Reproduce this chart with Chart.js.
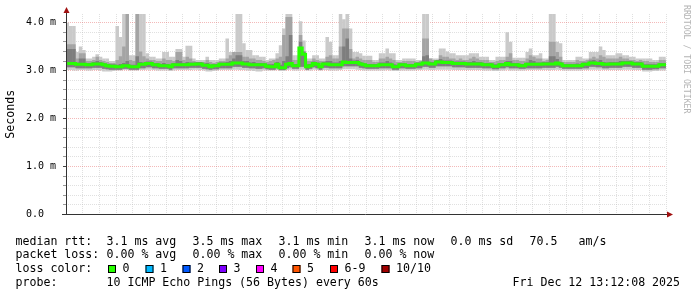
<!DOCTYPE html>
<html>
<head>
<meta charset="utf-8">
<script src="https://cdn.jsdelivr.net/npm/chart.js@4.4.1/dist/chart.umd.min.js"></script>
<style>
  html, body { margin: 0; padding: 0; background: #fff; }
  #chart { display: block; }
</style>
</head>
<body>
<canvas id="chart" width="697" height="297"></canvas>
<script>
// one column per minute, first column starts 10:12
const startMinute = 612;
const graphStart = 612 + 8 / 60;   // 10:12:08
const graphEnd = 792 + 8 / 60;     // 13:12:08

// highest ping (light smoke top), ms
const hi = [4.00,3.93,3.93,3.39,3.50,3.43,3.25,3.25,3.29,3.34,
  3.29,3.25,3.25,3.20,3.20,3.93,3.70,4.30,4.30,3.32,
  3.32,4.30,4.30,4.30,3.36,3.29,3.29,3.25,3.25,3.39,
  3.39,3.29,3.29,3.45,3.45,3.29,3.52,3.52,3.25,3.22,
  3.22,3.22,3.29,3.22,3.22,3.22,3.25,3.25,3.67,3.39,
  3.39,4.30,4.30,3.57,3.43,3.43,3.32,3.32,3.29,3.29,
  3.22,3.25,3.25,3.36,3.53,3.88,4.30,4.30,3.32,3.32,
  4.03,3.63,3.25,3.25,3.32,3.32,3.25,3.25,3.70,3.60,
  3.32,3.32,4.30,4.07,4.30,3.88,3.39,3.39,3.36,3.31,
  3.31,3.31,3.22,3.22,3.36,3.36,3.46,3.36,3.36,3.22,
  3.22,3.25,3.25,3.25,3.25,3.22,3.22,4.30,4.30,3.25,
  3.25,3.25,3.46,3.46,3.40,3.36,3.36,3.32,3.32,3.32,
  3.32,3.36,3.36,3.36,3.29,3.29,3.29,3.22,3.22,3.29,
  3.29,3.29,3.80,3.60,3.27,3.27,3.27,3.27,3.39,3.46,
  3.32,3.32,3.36,3.25,3.25,4.30,4.30,3.60,3.57,3.22,
  3.22,3.22,3.22,3.29,3.29,3.25,3.25,3.39,3.39,3.39,
  3.50,3.43,3.32,3.32,3.32,3.36,3.36,3.32,3.32,3.29,
  3.29,3.25,3.25,3.25,3.25,3.25,3.22,3.22,3.29,3.29,
  3.25];

// second highest ping (medium smoke top)
const hi2 = [3.55,3.55,3.55,3.25,3.36,3.36,3.20,3.20,3.22,3.29,
  3.22,3.20,3.18,3.16,3.16,3.22,3.30,3.50,4.30,3.22,
  3.20,4.30,3.40,3.30,3.25,3.22,3.22,3.20,3.20,3.25,
  3.22,3.22,3.20,3.39,3.39,3.22,3.29,3.25,3.20,3.18,
  3.18,3.18,3.22,3.18,3.16,3.18,3.20,3.20,3.25,3.32,
  3.39,3.39,3.39,3.29,3.29,3.25,3.25,3.22,3.22,3.20,
  3.18,3.20,3.22,3.25,3.29,3.74,4.12,4.12,3.22,3.22,
  3.74,3.40,3.20,3.20,3.25,3.22,3.20,3.20,3.29,3.32,
  3.25,3.25,3.50,3.88,3.88,3.45,3.25,3.29,3.25,3.22,
  3.22,3.22,3.18,3.18,3.25,3.25,3.29,3.25,3.22,3.18,
  3.18,3.20,3.20,3.20,3.20,3.18,3.20,3.67,3.67,3.25,
  3.22,3.22,3.32,3.29,3.29,3.25,3.25,3.22,3.25,3.22,
  3.22,3.25,3.29,3.25,3.22,3.22,3.22,3.18,3.18,3.20,
  3.22,3.22,3.29,3.36,3.22,3.22,3.20,3.20,3.25,3.32,
  3.29,3.25,3.25,3.20,3.22,3.60,3.60,3.39,3.29,3.18,
  3.18,3.18,3.18,3.22,3.20,3.20,3.22,3.25,3.29,3.25,
  3.32,3.29,3.25,3.25,3.25,3.25,3.29,3.25,3.25,3.22,
  3.22,3.20,3.22,3.20,3.20,3.18,3.18,3.18,3.22,3.22,
  3.20];

// third highest ping (dark smoke top)
const hi3 = [3.45,3.45,3.45,3.17,3.25,3.25,3.16,3.16,3.18,3.20,
  3.18,3.16,3.14,3.13,3.13,3.12,3.14,3.16,3.20,3.12,
  3.12,3.30,3.18,3.17,3.19,3.19,3.16,3.16,3.14,3.16,
  3.14,3.12,3.16,3.22,3.20,3.16,3.18,3.17,3.17,3.18,
  3.18,3.15,3.16,3.12,3.14,3.14,3.17,3.17,3.18,3.20,
  3.25,3.32,3.32,3.20,3.20,3.17,3.18,3.16,3.16,3.16,
  3.13,3.13,3.14,3.18,3.12,3.20,3.30,3.74,3.14,3.14,
  3.60,3.40,3.13,3.14,3.19,3.17,3.12,3.18,3.20,3.20,
  3.17,3.17,3.20,3.50,3.67,3.25,3.21,3.22,3.18,3.16,
  3.14,3.14,3.14,3.14,3.17,3.17,3.20,3.17,3.13,3.12,
  3.16,3.16,3.14,3.14,3.14,3.17,3.17,3.30,3.32,3.18,
  3.18,3.22,3.24,3.21,3.21,3.21,3.19,3.19,3.19,3.19,
  3.18,3.18,3.20,3.18,3.18,3.16,3.16,3.16,3.13,3.13,
  3.16,3.16,3.20,3.20,3.16,3.16,3.14,3.14,3.17,3.22,
  3.20,3.17,3.17,3.18,3.18,3.30,3.30,3.24,3.18,3.14,
  3.14,3.14,3.14,3.15,3.14,3.17,3.17,3.21,3.22,3.19,
  3.22,3.18,3.17,3.18,3.18,3.18,3.20,3.20,3.20,3.20,
  3.18,3.18,3.18,3.13,3.13,3.13,3.13,3.13,3.16,3.16,
  3.16];

// median rtt
const med = [3.15,3.15,3.15,3.13,3.13,3.13,3.12,3.12,3.14,3.14,
  3.14,3.12,3.10,3.09,3.09,3.08,3.08,3.10,3.10,3.08,
  3.08,3.08,3.13,3.13,3.15,3.15,3.12,3.12,3.10,3.10,
  3.10,3.08,3.12,3.12,3.12,3.12,3.12,3.13,3.13,3.14,
  3.14,3.11,3.11,3.08,3.10,3.10,3.13,3.13,3.13,3.13,
  3.16,3.16,3.16,3.14,3.14,3.12,3.12,3.12,3.12,3.12,
  3.09,3.08,3.08,3.13,3.06,3.06,3.13,3.15,3.10,3.10,
  3.47,3.34,3.08,3.10,3.15,3.13,3.08,3.14,3.14,3.12,
  3.12,3.12,3.12,3.18,3.17,3.17,3.17,3.17,3.14,3.12,
  3.10,3.10,3.10,3.10,3.12,3.12,3.12,3.12,3.08,3.08,
  3.12,3.12,3.10,3.10,3.10,3.13,3.13,3.16,3.16,3.14,
  3.14,3.18,3.18,3.17,3.17,3.17,3.15,3.15,3.15,3.15,
  3.14,3.14,3.14,3.14,3.14,3.12,3.12,3.12,3.09,3.09,
  3.12,3.12,3.15,3.12,3.12,3.12,3.10,3.10,3.13,3.13,
  3.13,3.13,3.13,3.14,3.14,3.14,3.14,3.16,3.14,3.10,
  3.10,3.10,3.10,3.10,3.10,3.13,3.13,3.16,3.16,3.15,
  3.15,3.13,3.13,3.14,3.14,3.14,3.14,3.16,3.16,3.16,
  3.14,3.14,3.14,3.09,3.09,3.09,3.09,3.09,3.12,3.12,
  3.12];

// second lowest ping (bottom of the darker smoke)
const lo2 = [3.07,3.07,3.07,3.05,3.05,3.05,3.05,3.05,3.06,3.06,
  3.06,3.04,3.03,3.02,3.02,3.02,3.02,3.04,3.04,3.02,
  3.02,3.02,3.05,3.05,3.07,3.07,3.05,3.05,3.04,3.04,
  3.04,3.02,3.05,3.05,3.05,3.05,3.05,3.06,3.06,3.06,
  3.06,3.04,3.03,3.02,3.03,3.03,3.05,3.05,3.05,3.05,
  3.08,3.08,3.08,3.06,3.06,3.05,3.05,3.04,3.04,3.05,
  3.03,3.02,3.02,3.05,3.01,3.01,3.05,3.07,3.04,3.04,
  3.08,3.08,3.02,3.04,3.07,3.05,3.02,3.06,3.06,3.05,
  3.05,3.05,3.05,3.09,3.09,3.09,3.09,3.09,3.06,3.05,
  3.04,3.04,3.04,3.04,3.05,3.05,3.05,3.05,3.02,3.02,
  3.05,3.05,3.04,3.04,3.04,3.05,3.05,3.08,3.08,3.06,
  3.06,3.09,3.09,3.09,3.09,3.09,3.07,3.07,3.07,3.07,
  3.06,3.06,3.06,3.06,3.06,3.05,3.05,3.05,3.03,3.03,
  3.05,3.05,3.07,3.05,3.05,3.05,3.04,3.04,3.05,3.05,
  3.05,3.05,3.05,3.06,3.06,3.06,3.06,3.08,3.06,3.04,
  3.04,3.04,3.04,3.04,3.04,3.05,3.05,3.08,3.08,3.07,
  3.07,3.05,3.05,3.06,3.06,3.06,3.06,3.08,3.08,3.08,
  3.06,3.06,3.06,3.02,3.02,3.02,3.03,3.03,3.05,3.05,
  3.05];

// lowest ping (bottom of the light smoke)
const lo = [3.01,3.01,3.00,3.00,3.01,3.01,3.00,3.00,3.01,3.01,
  3.00,2.98,2.98,2.98,2.99,3.00,3.00,3.01,3.01,3.00,
  3.00,3.00,3.01,3.01,3.02,3.02,3.01,3.00,3.00,3.00,
  3.00,2.99,3.00,3.01,3.01,3.01,3.01,3.01,3.02,3.02,
  3.01,3.00,2.98,2.98,2.99,3.00,3.01,3.01,3.01,3.01,
  3.02,3.02,3.01,3.01,3.00,3.00,2.99,2.98,2.98,3.00,
  3.00,3.00,3.00,3.01,2.99,2.99,3.01,3.02,3.00,3.00,
  3.02,3.02,3.00,3.00,3.02,3.01,3.00,3.01,3.01,3.00,
  3.00,3.00,3.01,3.03,3.03,3.03,3.03,3.02,3.01,3.00,
  3.00,3.00,3.00,3.00,3.00,3.00,3.01,3.00,2.99,2.99,
  3.00,3.00,3.00,3.00,3.00,3.01,3.01,3.02,3.02,3.01,
  3.01,3.02,3.02,3.02,3.02,3.02,3.01,3.01,3.01,3.01,
  3.01,3.01,3.01,3.01,3.01,3.00,3.00,3.00,2.99,2.99,
  3.00,3.00,3.02,3.00,3.00,3.00,3.00,3.00,3.01,3.01,
  3.01,3.01,3.01,3.01,3.01,3.01,3.01,3.02,3.01,3.00,
  3.00,3.00,3.00,3.00,3.00,3.01,3.01,3.02,3.02,3.02,
  3.02,3.01,3.01,3.01,3.01,3.01,3.01,3.02,3.02,3.02,
  3.01,3.01,3.01,2.98,2.98,2.98,2.99,2.99,3.00,3.00,
  3.00];

const yMax = 4.18;
const mono = "'DejaVu Sans Mono', monospace";

// legend rows
const lossLabels = ["0", "1", "2", "3", "4", "5", "6-9", "10/10"];
const lossColors = ["#26ff00", "#00b8ff", "#0059ff", "#7e00ff", "#ff00ff", "#ff5500", "#ff0000", "#a10000"];
const lossBoxX = [108, 145.5, 182.5, 219, 256, 292.5, 330, 381.5];

const times = hi.map((_, i) => startMinute + i + 0.5);
const bars = (low, high) => times.map((t, i) => ({ x: t, y: [low[i], high[i]] }));

const pad2 = (n) => String(n).padStart(2, "0");

// extra drawing: axes with arrows, legend text, watermark
const rrdExtras = {
  id: "rrdExtras",
  afterDraw(chart) {
    const ctx = chart.ctx;
    const a = chart.chartArea;
    ctx.save();

    ctx.strokeStyle = "#333";
    ctx.lineWidth = 1;
    ctx.beginPath();
    ctx.moveTo(a.left + 0.5, a.bottom);
    ctx.lineTo(a.left + 0.5, a.top - 3);
    ctx.moveTo(a.left - 4, a.bottom);
    ctx.lineTo(a.right + 3, a.bottom);
    ctx.stroke();

    ctx.fillStyle = "#a01010";
    ctx.beginPath();
    ctx.moveTo(a.left + 0.5, a.top - 7);
    ctx.lineTo(a.left - 2.5, a.top - 1);
    ctx.lineTo(a.left + 3.5, a.top - 1);
    ctx.closePath();
    ctx.fill();
    ctx.beginPath();
    ctx.moveTo(a.right + 7, a.bottom);
    ctx.lineTo(a.right + 1, a.bottom - 3);
    ctx.lineTo(a.right + 1, a.bottom + 3);
    ctx.closePath();
    ctx.fill();

    ctx.fillStyle = "#000";
    ctx.font = "11.6px " + mono;
    ctx.textBaseline = "middle";
    const rows = [
      [241.7, [[15.5, "median rtt:"], [106.5, "3.1 ms avg"], [192.5, "3.5 ms max"], [278.5, "3.1 ms min"],
        [364.5, "3.1 ms now"], [450.5, "0.0 ms sd"], [529.5, "70.5"], [578.5, "am/s"]]],
      [255.3, [[15.5, "packet loss:"], [106.5, "0.00 % avg"], [192.5, "0.00 % max"], [278.5, "0.00 % min"],
        [364.5, "0.00 % now"]]],
      [269, [[15.5, "loss color:"]]],
      [282.7, [[15.5, "probe:"], [106.5, "10 ICMP Echo Pings (56 Bytes) every 60s"], [512.5, "Fri Dec 12 13:12:08 2025"]]]
    ];
    rows.forEach(([y, items]) => items.forEach(([x, s]) => ctx.fillText(s, x, y)));

    lossLabels.forEach((label, i) => {
      const bx = lossBoxX[i];
      ctx.fillStyle = lossColors[i];
      ctx.fillRect(bx, 265, 8, 8);
      ctx.strokeStyle = "#000";
      ctx.strokeRect(bx + 0.5, 265.5, 7, 7);
      ctx.fillStyle = "#000";
      ctx.fillText(label, bx + 14.5, 269);
    });

    ctx.translate(686, 5);
    ctx.rotate(Math.PI / 2);
    ctx.font = "8.2px " + mono;
    ctx.fillStyle = "#b4b4b4";
    ctx.textBaseline = "middle";
    ctx.fillText("RRDTOOL / TOBI OETIKER", 0, 0);
    ctx.restore();
  }
};

const minorGrid = "rgba(186,186,186,0.45)";
const majorGrid = "rgba(224,80,80,0.4)";

new Chart(document.getElementById("chart"), {
  type: "bar",
  data: {
    datasets: [
      {
        type: "line",
        data: times.map((t, i) => ({ x: t, y: med[i] })),
        borderColor: "#26ff00",
        borderWidth: 3,
        stepped: "middle",
        pointRadius: 0,
        fill: false,
        order: 0
      },
      { data: bars(lo2, hi3), backgroundColor: "#7e7e7e", order: 1 },
      { data: bars(lo2, hi2), backgroundColor: "#a4a4a4", order: 2 },
      { data: bars(lo, hi), backgroundColor: "#cacaca", order: 3 }
    ]
  },
  options: {
    responsive: false,
    animation: false,
    devicePixelRatio: 1,
    events: [],
    layout: { padding: { top: 14, right: 31, left: 0, bottom: 0 } },
    datasets: {
      bar: { grouped: false, barPercentage: 1.06, categoryPercentage: 1, borderWidth: 0 }
    },
    plugins: { legend: { display: false }, tooltip: { enabled: false } },
    scales: {
      x: {
        type: "linear",
        min: graphStart,
        max: graphEnd,
        offset: false,
        afterFit: (scale) => { scale.height = 82.5; },
        border: { display: false, dash: [1, 1] },
        grid: {
          offset: false,
          drawTicks: false,
          color: (c) => (c.tick && c.tick.value % 20 === 0 ? majorGrid : minorGrid)
        },
        ticks: {
          stepSize: 5,
          includeBounds: false,
          autoSkip: false,
          maxRotation: 0,
          maxTicksLimit: 100,
          padding: 4,
          color: "#000",
          font: { family: mono, size: 10 },
          callback: (v) => (v % 20 === 0 ? pad2(Math.floor(v / 60)) + ":" + pad2(v % 60) : "")
        }
      },
      y: {
        min: 0,
        max: yMax,
        afterFit: (scale) => { scale.width = 66; },
        border: { display: false, dash: [1, 1] },
        grid: {
          tickLength: 3,
          color: (c) => (c.tick && Math.round(c.tick.value * 10) % 10 === 0 ? majorGrid : minorGrid),
          tickColor: (c) => (c.tick && Math.round(c.tick.value * 10) % 10 === 0 ? "#444" : "#999")
        },
        title: {
          display: true,
          text: "Seconds",
          color: "#000",
          font: { family: mono, size: 11.6 },
          padding: { top: 4, bottom: 0 }
        },
        ticks: {
          stepSize: 0.2,
          includeBounds: false,
          autoSkip: false,
          maxTicksLimit: 100,
          padding: 7,
          color: "#000",
          font: { family: mono, size: 10 },
          callback: (v) => {
            if (Math.round(v * 10) % 10 !== 0) return "";
            return v === 0 ? "0.0  " : v.toFixed(1) + " m";
          }
        }
      }
    }
  },
  plugins: [rrdExtras]
});
</script>
</body>
</html>
